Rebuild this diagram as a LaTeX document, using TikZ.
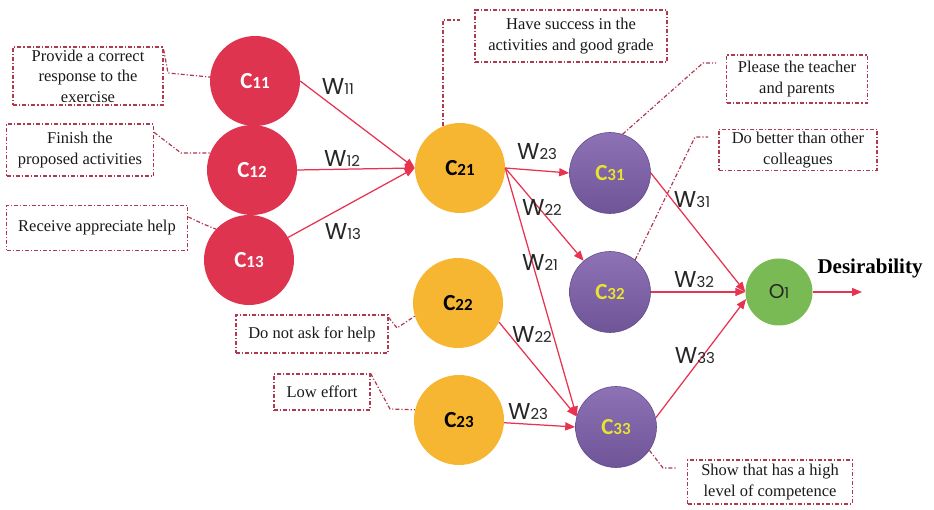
\documentclass[tikz,border=0pt]{standalone}
\usepackage{fontspec}
\setmainfont{Liberation Serif}
\newfontfamily\gfont{Poppins}
\newfontfamily\cfont{Carlito}
\usetikzlibrary{arrows.meta,calc}

\definecolor{redc}{RGB}{222,52,80}
\definecolor{orangec}{RGB}{246,182,50}
\definecolor{purpletop}{RGB}{142,114,182}
\definecolor{purplebot}{RGB}{112,84,152}
\definecolor{greenc}{RGB}{122,186,84}
\definecolor{yellowc}{RGB}{232,226,48}
\definecolor{edgec}{RGB}{232,50,80}
\definecolor{leadc}{RGB}{176,56,80}

% labels of the form C11 / W11 / O1 with small inline digits
\newcommand\Clab[1]{{\cfont\bfseries\fontsize{23}{23}\selectfont C}{\cfont\bfseries\fontsize{17}{17}\selectfont #1}}
\newcommand\Wlab[1]{{\gfont\fontsize{23}{23}\selectfont W}{\gfont\fontsize{15}{15}\selectfont #1}}

\tikzset{
  cnode/.style={circle, minimum size=90pt, inner sep=0pt},
  rednode/.style={cnode, fill=redc, text=white},
  orangenode/.style={cnode, fill=orangec, text=black},
  purplenode/.style={cnode, minimum size=81pt, top color=purpletop, bottom color=purplebot, draw=purplebot!90!black, line width=0.6pt, text=yellowc},
  greennode/.style={cnode, minimum size=67pt, fill=greenc, text=black!85},
  dashdot/.style={draw=leadc, line width=1.2pt, dash pattern=on 4pt off 2pt on 1.2pt off 2pt},
  note/.style 2 args={dashdot, align=center, inner sep=0pt, minimum width=#1pt, minimum height=#2pt,
    font=\fontsize{16.5}{20.5}\selectfont, text=black!90},
  lead/.style={dashdot},
  link/.style={draw=edgec, line width=1.25pt, -{Triangle[length=10pt,width=8pt]}},
  wtext/.style={inner sep=0pt, text=black!85},
}

\begin{document}
\begin{tikzpicture}[x=1pt, y=-1pt]
\useasboundingbox (0,0) rectangle (934,510);

% concept nodes
\node[rednode] (C11) at (255,81) {\Clab{11}};
\node[rednode] (C12) at (252,170) {\Clab{12}};
\node[rednode] (C13) at (249,260) {\Clab{13}};
\node[orangenode] (C21) at (460,168) {\Clab{21}};
\node[orangenode] (C22) at (458,303) {\Clab{22}};
\node[orangenode] (C23) at (459,420) {\Clab{23}};
\node[purplenode] (C31) at (610,173) {\Clab{31}};
\node[purplenode] (C32) at (610,292) {\Clab{32}};
\node[purplenode] (C33) at (616,427) {\Clab{33}};
\node[greennode] (O1) at (779,292) {{\gfont\fontsize{20}{20}\selectfont O}{\gfont\fontsize{15}{15}\selectfont 1}};

% description boxes
\node[note={150}{58}] (b1) at (88,76) {Provide a correct\\response to the\\exercise};
\node[note={147}{52}] (b2) at (80,150) {Finish the\\proposed activities};
\node[note={181}{45}] (b3) at (97,228) {Receive appreciate help};
\node[note={192}{52}] (b4) at (571,36) {Have success in the\\activities and good grade};
\node[note={141}{48}] (b5) at (797,79) {Please the teacher\\and parents};
\node[note={158}{41}] (b6) at (798,150) {Do better than other\\colleagues};
\node[note={152}{38}] (b7) at (312,334) {Do not ask for help};
\node[note={96}{36}] (b8) at (322,392) {Low effort};
\node[note={165}{44}] (b9) at (770,482) {Show that has a high\\level of competence};

% leader lines between boxes and concepts
\coordinate (k1) at (168,73);
\coordinate (k2) at (181,153);
\coordinate (k3) at (201,223);
\coordinate (k4) at (460,20);
\coordinate (k5a) at (703,63);
\coordinate (k5b) at (716,63);
\coordinate (k6a) at (695,137);
\coordinate (k6b) at (708,137);
\coordinate (k7) at (397,328);
\coordinate (k8) at (390,409);
\coordinate (k9a) at (663,468);
\coordinate (k9b) at (676,468);

\draw[lead] ($(b1.north east)+(0,3)$) -- (k1) -- (C11.175);
\draw[lead] ($(b2.north east)+(0,9)$) -- (k2) -- (C12.158);
\draw[lead] ($(b3.north east)+(0,12)$) -- (k3) -- (C13.137);
\draw[lead] (C21.112) |- (k4);
\draw[lead] (C31.72) -- (k5a) -- (k5b);
\draw[lead] (C32.52) -- (k6a) -- (k6b);
\draw[lead] ($(b7.north east)+(0,3)$) -- (k7) -- (C22.197);
\draw[lead] (b8.north east) -- (k8) -- (C23.167);
\draw[lead] (C33.-35) -- (k9a) -- (k9b);

% weighted links
\draw[link] (C11.east) -- (C21.west);
\draw[link] (C12.east) -- (C21.west);
\draw[link] (C13.30) -- (C21.west);
\draw[link] (C21.east) -- (C31.west);
\draw[link] (C21.east) -- (C32);
\draw[link] (C21.east) -- (C33.165);
\draw[link] (C22.-25) -- (C33.165);
\draw[link] (C23) -- (C33.west);
\draw[link] (C31.east) -- (O1.west);
\draw[link] (C32.east) -- (O1.west);
\draw[link] (C33.13) -- (O1.192);

\coordinate (out) at (862,292);
\draw[link] (O1.east) -- (out);
\node[inner sep=0pt, font=\bfseries\fontsize{21}{21}\selectfont] (des) at (870,268) {Desirability};

% weight labels
\node[wtext] (w11) at (338,87) {\Wlab{11}};
\node[wtext] (w12) at (342,158) {\Wlab{12}};
\node[wtext] (w13) at (343,232) {\Wlab{13}};
\node[wtext] (w23a) at (537,152) {\Wlab{23}};
\node[wtext] (w22a) at (542,207) {\Wlab{22}};
\node[wtext] (w21) at (540,262) {\Wlab{21}};
\node[wtext] (w22b) at (532,334) {\Wlab{22}};
\node[wtext] (w23b) at (528,412) {\Wlab{23}};
\node[wtext] (w31) at (692,200) {\Wlab{31}};
\node[wtext] (w32) at (694,280) {\Wlab{32}};
\node[wtext] (w33) at (695,356) {\Wlab{33}};
\end{tikzpicture}
\end{document}
